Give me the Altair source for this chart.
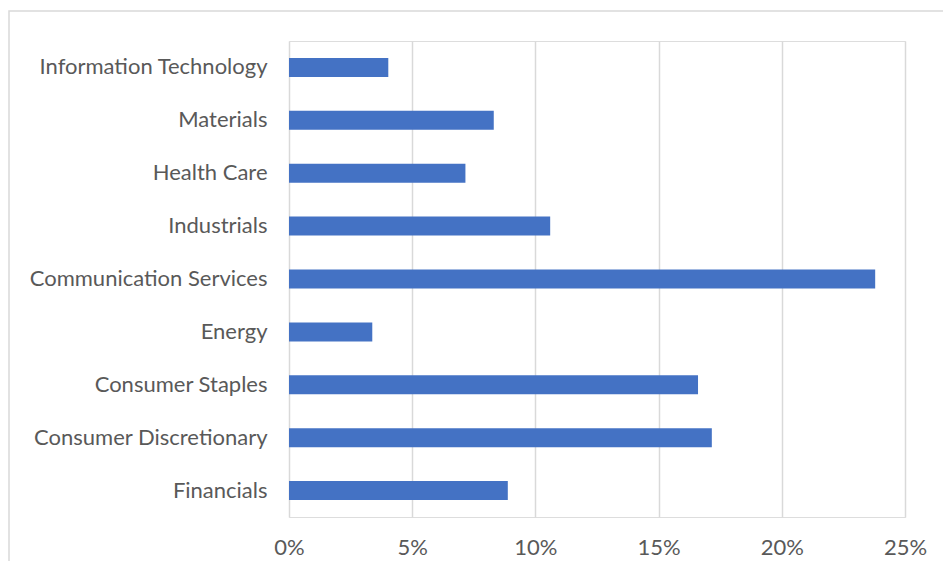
import altair as alt
import pandas as pd

sectors = [
    "Information Technology",
    "Materials",
    "Health Care",
    "Industrials",
    "Communication Services",
    "Energy",
    "Consumer Staples",
    "Consumer Discretionary",
    "Financials",
]
weights = [0.0403, 0.0831, 0.0716, 0.106, 0.2379, 0.0338, 0.166, 0.1716, 0.0888]
x_ticks = [0, 0.05, 0.10, 0.15, 0.20, 0.25]

df = pd.DataFrame({"sector": sectors, "weight": weights})

FONT = "Lato"
LABEL = "#595959"
GRID = "#d9d9d9"

bars = alt.Chart(df).mark_bar(color="#4472C4", size=19).encode(
    x=alt.X(
        "weight:Q",
        scale=alt.Scale(domain=[0, 0.25], nice=False, zero=True),
        axis=alt.Axis(
            values=x_ticks,
            format=".0%",
            title=None,
            grid=True,
            gridColor=GRID,
            gridWidth=1.5,
            domain=False,
            ticks=False,
            tickSize=0,
            labelFlush=False,
            labelPadding=20,
            labelFont=FONT,
            labelFontSize=22,
            labelColor=LABEL,
        ),
    ),
    y=alt.Y(
        "sector:N",
        sort=sectors,
        scale=alt.Scale(paddingInner=0.0, paddingOuter=0.0),
        axis=alt.Axis(
            title=None,
            grid=False,
            domain=False,
            ticks=False,
            tickSize=0,
            labelLimit=400,
            labelPadding=22,
            labelFont=FONT,
            labelFontSize=22,
            labelColor=LABEL,
        ),
    ),
)

frame = alt.Chart(pd.DataFrame({"a": [0]})).mark_rect(
    fill=None, stroke=GRID, strokeWidth=1.5
).encode(
    x=alt.value(-280),
    x2=alt.value(700),
    y=alt.value(-30),
    y2=alt.value(600),
)

chart = alt.layer(frame, bars).properties(
    width=616,
    height=476,
    autosize=alt.AutoSizeParams(type="none"),
    padding={"left": 281, "top": 33, "right": 38, "bottom": 44},
).configure_view(stroke=None).configure(background="white")

chart.save("out.html", embed_options={"renderer": "svg", "actions": False})
